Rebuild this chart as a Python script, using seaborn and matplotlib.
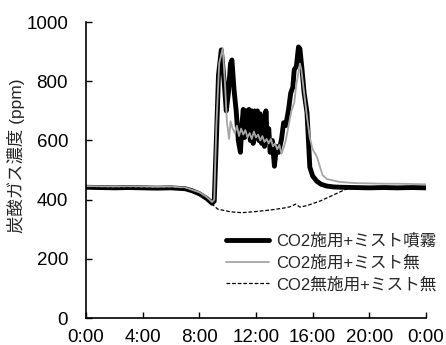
import numpy as np
import pandas as pd
import matplotlib
matplotlib.use('Agg')
import matplotlib.pyplot as plt
import seaborn as sns

# hours, CO2 ppm
t_mist = [0, 1, 2, 3, 4, 5, 6, 7, 7.5, 8, 8.5, 8.9, 9.05, 9.2, 9.35, 9.55, 9.75, 9.9,
          10.05, 10.2, 10.3, 10.45, 10.6, 10.75, 10.9, 11.0, 11.1, 11.2, 11.3, 11.4, 11.5,
          11.6, 11.7, 11.8, 11.9, 12.0, 12.1, 12.2, 12.3, 12.4, 12.5, 12.6, 12.7, 12.8,
          12.9, 13.0, 13.15, 13.3, 13.45, 13.6, 13.8, 13.95, 14.1, 14.3, 14.45, 14.6, 14.7,
          14.85, 15.0, 15.1, 15.25, 15.4, 15.6, 15.8, 16.0, 16.3, 16.6, 17.0, 17.5, 18, 19,
          20, 21, 22, 23, 24]
co2_mist = [442, 441, 440, 441, 440, 439, 440, 437, 430, 420, 405, 388, 395, 600, 820,
            906, 800, 700, 760, 860, 872, 770, 700, 600, 560, 650, 705, 610, 700, 620, 705,
            600, 700, 590, 700, 610, 700, 600, 690, 590, 680, 580, 700, 600, 640, 560, 600,
            513, 580, 560, 604, 660, 650, 705, 760, 780, 839, 850, 916, 910, 840, 760, 695,
            510, 480, 462, 452, 446, 443, 442, 441, 440, 441, 440, 441, 440]

t_nomist = [0, 1, 2, 3, 4, 5, 6, 7, 8, 8.5, 8.9, 9.05, 9.2, 9.4, 9.65, 9.8, 9.95, 10.1,
            10.2, 10.35, 10.5, 10.65, 10.8, 10.95, 11.1, 11.25, 11.4, 11.55, 11.7, 11.85,
            12.0, 12.15, 12.3, 12.45, 12.6, 12.75, 12.9, 13.05, 13.2, 13.35, 13.5, 13.65,
            13.8, 13.95, 14.1, 14.3, 14.5, 14.7, 14.85, 15.0, 15.1, 15.2, 15.4, 15.6, 15.8,
            16.0, 16.3, 16.7, 17.0, 17.9, 19, 20, 21, 22, 23, 24]
co2_nomist = [446, 445, 444, 445, 444, 443, 444, 441, 425, 410, 392, 400, 650, 860, 912,
              800, 660, 605, 665, 640, 625, 650, 615, 640, 620, 635, 610, 625, 605, 630,
              610, 620, 600, 615, 595, 605, 590, 605, 580, 590, 570, 585, 555, 575, 600,
              650, 700, 728, 790, 830, 860, 840, 760, 680, 610, 570, 545, 483, 470, 460,
              456, 455, 454, 454, 453, 452]

t_ctrl = [0, 1, 2, 3, 4, 5, 6, 7, 8, 8.9, 9.3, 10.2, 11, 12, 13, 14, 14.4, 14.8, 15.1,
          15.6, 16.5, 17.2, 18.1, 18.6, 19, 20, 21, 22, 23, 24]
co2_ctrl = [440, 439, 439, 440, 439, 438, 439, 436, 415, 385, 368, 359, 356, 360, 365,
            372, 376, 385, 375, 380, 395, 410, 430, 440, 440, 440, 440, 439, 440, 440]

labels = ['CO2施用+ミスト噴霧', 'CO2施用+ミスト無', 'CO2無施用+ミスト無']
xticks = [0, 4, 8, 12, 16, 20, 24]
xticklabels = ['0:00', '4:00', '8:00', '12:00', '16:00', '20:00', '0:00']

sns.set_style('ticks')
plt.rcParams['font.family'] = ['Liberation Sans', 'Noto Sans CJK JP']

fig = plt.figure(figsize=(4.46, 3.45), dpi=100)
ax = fig.add_axes([0.193, 0.078, 0.762, 0.858])

sns.lineplot(x=t_mist, y=co2_mist, ax=ax, color='black', linewidth=3.5, label=labels[0])
sns.lineplot(x=t_nomist, y=co2_nomist, ax=ax, color='#a6a6a6', linewidth=1.3, label=labels[1])
sns.lineplot(x=t_ctrl, y=co2_ctrl, ax=ax, color='black', linewidth=0.9, linestyle='--',
             label=labels[2])
ax.lines[2].set_dashes([3, 1.5])

ax.set_xlim(0, 24)
ax.set_ylim(0, 1000)
ax.set_xticks(xticks)
ax.set_xticklabels(xticklabels)
ax.set_yticks([0, 200, 400, 600, 800, 1000])
ax.tick_params(direction='in', length=4, width=1, labelsize=13.5, colors='black')
ax.tick_params(axis='x', pad=8)
ax.tick_params(axis='y', pad=13)
for s in ['left', 'bottom']:
    ax.spines[s].set_linewidth(1.2)
    ax.spines[s].set_color('black')
sns.despine(ax=ax)

ax.set_ylabel('炭酸ガス濃度 (ppm)', fontsize=12.5)
ax.yaxis.set_label_coords(-0.18, 0.55)
ax.set_xlabel('')

leg = ax.legend(loc='lower right', bbox_to_anchor=(1.05, 0.065), frameon=False, fontsize=12,
                handlelength=2.6, handletextpad=0.4, labelspacing=0.38, borderaxespad=0)

fig.savefig('out.png', dpi=100)
